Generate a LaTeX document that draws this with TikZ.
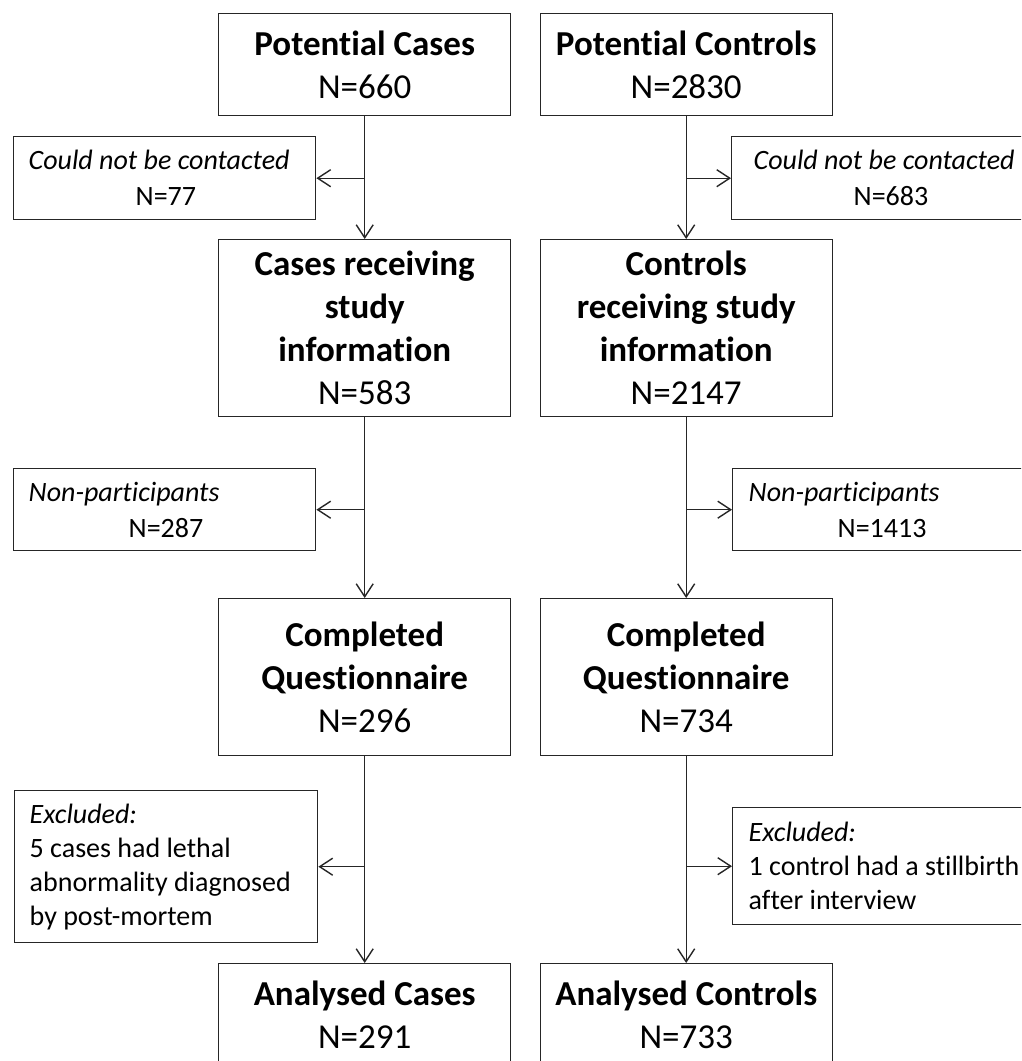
\documentclass[tikz,border=0pt]{standalone}
\usepackage{fontspec}
\setmainfont{Carlito}[Ligatures=NoCommon]
\usetikzlibrary{arrows.meta}
\begin{document}
\begin{tikzpicture}[x=1pt,y=-1pt,
  mainbox/.style={draw=black!85, line width=1.4pt, anchor=north west, minimum width=292pt, text width=284pt, inner xsep=4pt, inner ysep=0pt, align=flush center, font=\fontsize{35}{43}\selectfont},
  sidebox/.style={draw=black!85, line width=1.4pt, anchor=north west, align=flush left, inner ysep=0pt, font=\fontsize{28}{34}\selectfont},
  pairbox/.style={sidebox, font=\fontsize{28}{36}\selectfont},
  flow/.style={draw=black!85, line width=1.4pt, -{Straight Barb[length=13pt,width=17pt]}}
]
\useasboundingbox (0,0) rectangle (1021,1061);
\clip (0,0) rectangle (1021,1061);

% main boxes, cases
\node[mainbox, minimum height=102pt] (pca) at (218,13) {\textbf{Potential Cases}\\N=660};
\node[mainbox, minimum height=177pt] (rca) at (218,239) {\textbf{Cases receiving}\\\textbf{study}\\\textbf{information}\\N=583};
\node[mainbox, minimum height=157pt] (qca) at (218,598) {\textbf{Completed}\\\textbf{Questionnaire}\\N=296};
\node[mainbox, minimum height=102pt] (aca) at (218,963) {\textbf{Analysed Cases}\\N=291};

% main boxes, controls
\node[mainbox, minimum height=102pt] (pco) at (539.5,13) {\textbf{Potential Controls}\\N=2830};
\node[mainbox, minimum height=177pt] (rco) at (539.5,239) {\textbf{Controls}\\\textbf{receiving study}\\\textbf{information}\\N=2147};
\node[mainbox, minimum height=157pt] (qco) at (539.5,598) {\textbf{Completed}\\\textbf{Questionnaire}\\N=734};
\node[mainbox, minimum height=102pt] (aco) at (539.5,963) {\textbf{Analysed Controls}\\N=733};

% side boxes, cases
\node[pairbox, minimum height=83pt, inner xsep=15pt, text width=272pt] (nca) at (13,136)
  {\textit{Could not be contacted}\\\hspace*{107pt}N=77};
\node[pairbox, minimum height=82pt, inner xsep=15pt, text width=272pt] (npa) at (13,468)
  {\textit{Non-participants}\\\hspace*{100pt}N=287};
\node[sidebox, minimum height=152pt, inner xsep=15pt, text width=273pt] (exa) at (14,790)
  {\textit{Excluded:}\\5 cases had lethal\\abnormality diagnosed\\by post-mortem};

% side boxes, controls
\node[pairbox, minimum height=83pt, inner xsep=22pt, text width=270pt] (nco) at (731,136)
  {\textit{Could not be contacted}\\\hspace*{100pt}N=683};
\node[pairbox, minimum height=82pt, inner xsep=16pt, text width=270pt] (npo) at (732,468)
  {\textit{Non-participants}\\\hspace*{89pt}N=1413};
\node[sidebox, minimum height=117pt, inner xsep=16pt, text width=290pt] (exo) at (732,807)
  {\textit{Excluded:}\\1 control had a stillbirth\\after interview};

% vertical flow
\draw[flow] (pca.south) -- (rca.north);
\draw[flow] (rca.south) -- (qca.north);
\draw[flow] (qca.south) -- (aca.north);
\draw[flow] (pco.south) -- (rco.north);
\draw[flow] (rco.south) -- (qco.north);
\draw[flow] (qco.south) -- (aco.north);

% side arrows
\draw[flow] (pca.south |- nca.east) -- (nca.east);
\draw[flow] (rca.south |- npa.east) -- (npa.east);
\draw[flow] (qca.south |- exa.east) -- (exa.east);
\draw[flow] (pco.south |- nco.west) -- (nco.west);
\draw[flow] (rco.south |- npo.west) -- (npo.west);
\draw[flow] (qco.south |- exo.west) -- (exo.west);
\end{tikzpicture}
\end{document}
